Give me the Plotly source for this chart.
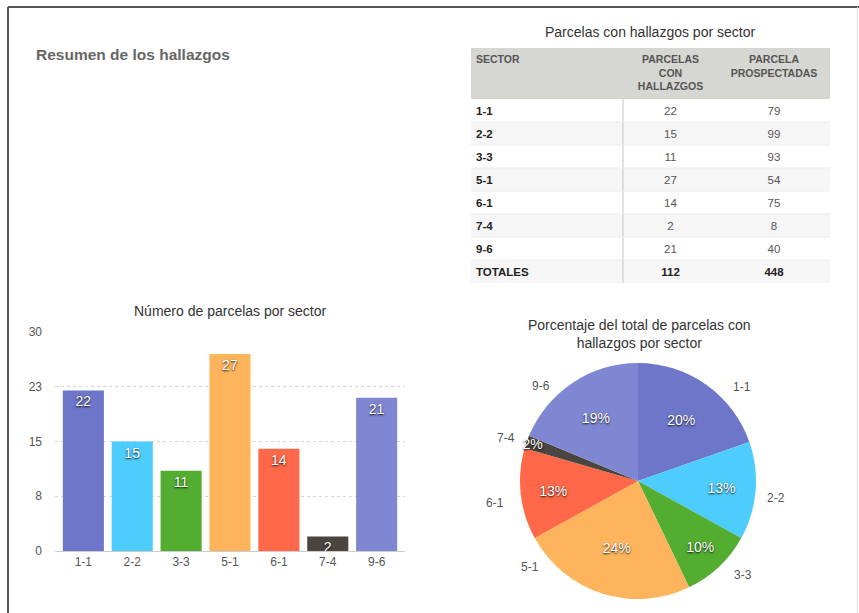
import plotly.graph_objects as go

W, H = 859, 613

# ---- data ----
sectors = ["1-1", "2-2", "3-3", "5-1", "6-1", "7-4", "9-6"]
parcelas_con_hallazgos = [22, 15, 11, 27, 14, 2, 21]
parcelas_prospectadas = [79, 99, 93, 54, 75, 8, 40]
total_label = "TOTALES"
total_hallazgos = 112
total_prospectadas = 448
table_headers = ["SECTOR", "PARCELAS<br>CON<br>HALLAZGOS", "PARCELA<br>PROSPECTADAS"]
y_tick_vals = [0, 7.5, 15, 22.5, 30]
y_tick_text = ["0", "8", "15", "23", "30"]

# ---- style / layout ----
colors = ["#6e76c9", "#4ccdfd", "#52ad31", "#fdb45c", "#fe6848", "#4a4541", "#7f87d2"]
FONT = "Liberation Sans, Arial, Helvetica, sans-serif"
SHADOW = "0px 1px 2px rgba(0,0,0,0.9)"
# pixel positions of the pie's category labels (as placed in the reference layout)
pie_label_pos = {"1-1": (742, 387), "2-2": (776, 498), "3-3": (743, 575), "5-1": (530, 567),
                 "6-1": (495, 503), "7-4": (506, 438), "9-6": (541, 386)}

def px_x(x):
    return x / W

def px_y(y):
    return 1 - y / H

fig = go.Figure()

# ---- table (heatmap cells + text) ----
col_widths = [152, 95, 112]
header_h = 51
row_h = 23
text_dy = 1.5
col1 = [f"<b>{s}</b>" for s in sectors] + [f"<b>{total_label}</b>"]
col2 = [str(v) for v in parcelas_con_hallazgos] + [f"<b>{total_hallazgos}</b>"]
col3 = [str(v) for v in parcelas_prospectadas] + [f"<b>{total_prospectadas}</b>"]
n_rows = len(col1)

x_edges = [0]
for w in col_widths:
    x_edges.append(x_edges[-1] + w)
y_edges = [0, header_h] + [header_h + row_h * (i + 1) for i in range(n_rows)]
z = [[2, 2, 2]] + [[i % 2] * 3 for i in range(n_rows)]
tbl_w = x_edges[-1]
tbl_h = y_edges[-1]

fig.add_trace(go.Heatmap(
    x=x_edges, y=y_edges, z=z,
    zmin=0, zmax=2,
    colorscale=[[0, "#ffffff"], [0.5, "#f6f6f6"], [1, "#d6d6d2"]],
    showscale=False, hoverinfo="skip",
    xaxis="x3", yaxis="y3",
))

col_left = 5
col_centers = [(x_edges[i] + x_edges[i + 1]) / 2 for i in range(3)]
row_centers = [(y_edges[i + 1] + y_edges[i + 2]) / 2 + text_dy for i in range(n_rows)]
last_bold = ["#555555"] * (n_rows - 1) + ["#222222"]

fig.add_trace(go.Scatter(
    x=[col_left], y=[7], text=[f"<b>{table_headers[0]}</b>"], mode="text",
    textposition="bottom right", textfont=dict(family=FONT, size=10.5, color="#555555"),
    hoverinfo="skip", xaxis="x3", yaxis="y3", cliponaxis=False,
))
fig.add_trace(go.Scatter(
    x=col_centers[1:], y=[7, 7], text=[f"<b>{h}</b>" for h in table_headers[1:]], mode="text",
    textposition="bottom center", textfont=dict(family=FONT, size=10.5, color="#555555"),
    hoverinfo="skip", xaxis="x3", yaxis="y3", cliponaxis=False,
))
fig.add_trace(go.Scatter(
    x=[col_left] * n_rows, y=row_centers, text=col1, mode="text",
    textposition="middle right", textfont=dict(family=FONT, size=11.5, color="#222222"),
    hoverinfo="skip", xaxis="x3", yaxis="y3", cliponaxis=False,
))
fig.add_trace(go.Scatter(
    x=[col_centers[1]] * n_rows, y=row_centers, text=col2, mode="text",
    textposition="middle center", textfont=dict(family=FONT, size=11.5, color=last_bold),
    hoverinfo="skip", xaxis="x3", yaxis="y3", cliponaxis=False,
))
fig.add_trace(go.Scatter(
    x=[col_centers[2]] * n_rows, y=row_centers, text=col3, mode="text",
    textposition="middle center", textfont=dict(family=FONT, size=11.5, color=last_bold),
    hoverinfo="skip", xaxis="x3", yaxis="y3", cliponaxis=False,
))

# ---- bar chart ----
fig.add_trace(go.Bar(
    x=sectors,
    y=parcelas_con_hallazgos,
    marker=dict(color=colors, line=dict(width=0)),
    text=[str(v) for v in parcelas_con_hallazgos],
    textposition="inside",
    insidetextanchor="end",
    constraintext="none",
    textangle=0,
    textfont=dict(family=FONT, size=14, color="white", shadow=SHADOW),
    hoverinfo="x+y",
    xaxis="x", yaxis="y",
))

# ---- pie chart ----
cx, cy, R = 638, 481, 118
pie_domain = dict(x=[px_x(cx - R), px_x(cx + R)], y=[px_y(cy + R), px_y(cy - R)])
fig.add_trace(go.Pie(
    labels=sectors,
    values=parcelas_con_hallazgos,
    domain=pie_domain,
    sort=False,
    direction="clockwise",
    rotation=0,
    automargin=False,
    marker=dict(colors=colors, line=dict(width=0)),
    texttemplate="%{percent:.0%}",
    textposition="inside",
    insidetextorientation="horizontal",
    textfont=dict(family=FONT, size=14, color="white", shadow=SHADOW),
    hoverinfo="label+value+percent",
    showlegend=False,
))

pie_label_annotations = [
    dict(text=s, x=px_x(pie_label_pos[s][0]), y=px_y(pie_label_pos[s][1]), xref="paper", yref="paper",
         xanchor="center", yanchor="middle", showarrow=False, font=dict(size=12, color="#555555"))
    for s in sectors
]

row_lines = [
    dict(type="line", xref="x3", yref="y3", x0=0, x1=tbl_w, y0=y_edges[i], y1=y_edges[i],
         line=dict(color="#ededed", width=1), layer="above")
    for i in range(2, len(y_edges) - 1)
]

fig.update_layout(
    template="none",
    width=W, height=H,
    autosize=False,
    margin=dict(l=0, r=0, t=0, b=0, pad=0, autoexpand=False),
    paper_bgcolor="white",
    plot_bgcolor="white",
    font=dict(family=FONT, color="#555555"),
    showlegend=False,
    bargap=0.16,
    uniformtext=dict(minsize=13, mode="show"),
    xaxis=dict(
        domain=[px_x(55), px_x(405)],
        anchor="y", automargin=False,
        range=[-0.58, 6.58],
        showline=True, linecolor="#cccccc", linewidth=1,
        ticks="", tickfont=dict(size=12, color="#555555"),
        showgrid=False, zeroline=False,
        fixedrange=True,
    ),
    yaxis=dict(
        domain=[px_y(551), px_y(332)],
        anchor="x", automargin=False,
        range=[0, 30],
        tickvals=y_tick_vals, ticktext=y_tick_text,
        tickfont=dict(size=12, color="#555555"),
        showgrid=True, gridcolor="#d5d5d5", griddash="dot", gridwidth=1,
        zeroline=False, showline=False,
        ticks="", ticklabelstandoff=12,
        fixedrange=True,
    ),
    xaxis3=dict(
        domain=[px_x(471), px_x(471 + tbl_w)], anchor="y3", automargin=False,
        range=[0, tbl_w], visible=False, fixedrange=True,
    ),
    yaxis3=dict(
        domain=[px_y(48 + tbl_h), px_y(48)], anchor="x3", automargin=False,
        range=[tbl_h, 0], visible=False, fixedrange=True,
    ),
    annotations=[
        dict(text="<b>Resumen de los hallazgos</b>", x=px_x(34), y=px_y(55), xref="paper", yref="paper",
             xanchor="left", yanchor="middle", showarrow=False, font=dict(size=15.5, color="#666666")),
        dict(text="Parcelas con hallazgos por sector", x=px_x(650), y=px_y(32), xref="paper", yref="paper",
             xanchor="center", yanchor="middle", showarrow=False, font=dict(size=14, color="#333333")),
        dict(text="Número de parcelas por sector", x=px_x(230), y=px_y(311), xref="paper", yref="paper",
             xanchor="center", yanchor="middle", showarrow=False, font=dict(size=14, color="#333333")),
        dict(text="Porcentaje del total de parcelas con<br>hallazgos por sector", x=px_x(639), y=px_y(334),
             xref="paper", yref="paper", xanchor="center", yanchor="middle", showarrow=False,
             font=dict(size=14, color="#333333")),
    ] + pie_label_annotations,
    shapes=[
        dict(type="line", xref="paper", yref="paper", x0=px_x(8), x1=px_x(859), y0=px_y(7), y1=px_y(7),
             line=dict(color="#555555", width=2)),
        dict(type="line", xref="paper", yref="paper", x0=px_x(8), x1=px_x(8), y0=px_y(7), y1=0,
             line=dict(color="#555555", width=2)),
        dict(type="line", xref="paper", yref="paper", x0=px_x(857.5), x1=px_x(857.5), y0=px_y(7), y1=0,
             line=dict(color="#dddddd", width=1)),
        dict(type="line", xref="x3", yref="y3", x0=x_edges[1], x1=x_edges[1], y0=header_h, y1=tbl_h,
             line=dict(color="#c4c4c4", width=1), layer="above"),
    ] + row_lines,
)

fig.write_html(
    "out.html",
    config=dict(responsive=False, displayModeBar=False),
    post_script="document.body.style.margin='0';document.body.style.overflow='hidden';",
)
